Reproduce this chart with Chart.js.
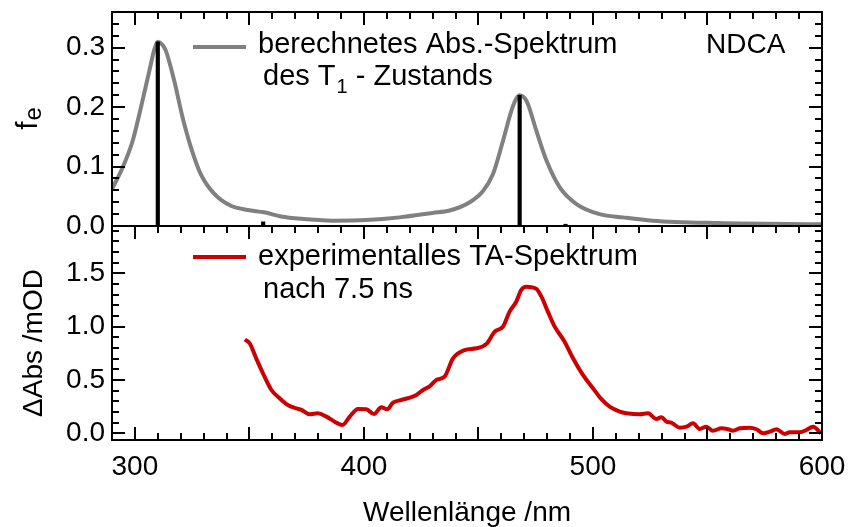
<!DOCTYPE html>
<html>
<head>
<meta charset="utf-8">
<script src="https://cdn.jsdelivr.net/npm/chart.js@4.4.1/dist/chart.umd.min.js"></script>
<style>
html,body{margin:0;padding:0;background:#fff;}
#wrap{width:848px;height:527px;position:relative;}
</style>
</head>
<body>
<div id="wrap"><canvas id="c" width="848" height="527"></canvas></div>
<script>
// ---- data ----
const calcWavelength = [290, 294.6, 299, 302.6, 306.3, 308.5, 310, 312, 313.5, 317.2, 320.8, 324.5, 328.8, 334.7, 341.9, 349.2, 356.5, 363.8, 372.5, 386.5, 401, 415.6, 430, 437.4, 446.2, 452, 456.3, 460.7, 464.4, 466.5, 468, 470, 471.5, 475.3, 479.7, 485.5, 492.8, 502.9, 513.1, 526, 555, 600];
const calcStrength   = [0.062, 0.098, 0.143, 0.199, 0.261, 0.297, 0.310, 0.305, 0.295, 0.244, 0.183, 0.132, 0.087, 0.054, 0.034, 0.027, 0.023, 0.016, 0.012, 0.009, 0.010, 0.0145, 0.022, 0.026, 0.040, 0.059, 0.087, 0.143, 0.194, 0.214, 0.220, 0.216, 0.206, 0.160, 0.110, 0.065, 0.037, 0.020, 0.0145, 0.009, 0.005, 0.003];

const stickWavelength = [310, 356, 468, 488];
const stickStrength   = [0.31, 0.007, 0.22, 0.003];

const taWavelength = [348, 350.1, 353, 355.9, 359.6, 363.2, 366.8, 370.5, 372.7, 376.3, 379.9, 383.6, 387.2, 390.6, 393.8, 397.4, 401, 404.4, 407.6, 410.1, 412.7, 416.3, 420, 422.9, 425.8, 428.7, 431.6, 435.2, 438.9, 444, 449.1, 453.5, 457.1, 460.7, 463.6, 466.5, 468.7, 470.9, 475.3, 477.5, 480.3, 483.3, 487.6, 491.3, 495.6, 500, 503.7, 507.3, 511.7, 514.6, 520.4, 524, 527.7, 529.9, 532.1, 534.2, 537.9, 540.8, 543.7, 546.6, 549.5, 552.4, 556.1, 559, 561.1, 564.1, 568.4, 571.4, 574.3, 577.2, 580.1, 583.7, 585.9, 590.3, 593.2, 596.1, 599.5];
const taAbsorbance = [0.88, 0.844, 0.70, 0.563, 0.406, 0.328, 0.265, 0.234, 0.219, 0.178, 0.188, 0.156, 0.109, 0.078, 0.156, 0.228, 0.225, 0.181, 0.244, 0.225, 0.287, 0.312, 0.334, 0.359, 0.406, 0.44, 0.50, 0.531, 0.703, 0.781, 0.797, 0.838, 0.953, 1.0, 1.141, 1.234, 1.344, 1.375, 1.354, 1.281, 1.141, 1.0, 0.859, 0.703, 0.547, 0.422, 0.32, 0.25, 0.203, 0.188, 0.178, 0.188, 0.134, 0.15, 0.109, 0.10, 0.053, 0.062, 0.094, 0.04, 0.062, 0.024, 0.047, 0.038, 0.024, 0.047, 0.053, 0.038, 0.0, 0.015, 0.038, -0.006, 0.009, 0.009, 0.031, 0.062, 0.0];

const xTickLabels = [300, 400, 500, 600];
const topTickLabels = [0.0, 0.1, 0.2, 0.3];
const bottomTickLabels = [0.0, 0.5, 1.0, 1.5];

// ---- chart ----
const FONT = "'Liberation Sans', Arial, Helvetica, sans-serif";
Chart.defaults.font.family = FONT;
Chart.defaults.color = '#000';

function pairs(xs, ys) { return xs.map((x, i) => ({x: x, y: ys[i]})); }

const frameAndText = {
  id: 'frameAndText',
  afterDraw(chart) {
    const {ctx, chartArea: ca, scales} = chart;
    const sx = scales.x, yT = scales.yTop, yB = scales.yBot;
    ctx.save();
    ctx.strokeStyle = '#000';
    ctx.lineWidth = 2;
    ctx.strokeRect(ca.left, ca.top, ca.right - ca.left, ca.bottom - ca.top);
    ctx.beginPath();
    ctx.moveTo(ca.left, yT.bottom); ctx.lineTo(ca.right, yT.bottom);
    ctx.stroke();

    // inward ticks
    ctx.beginPath();
    for (let v = 290; v <= 600; v += 10) {
      const px = Math.round(sx.getPixelForValue(v));
      const len = (v % 50 === 0) ? 13 : 7;
      ctx.moveTo(px, yT.top); ctx.lineTo(px, yT.top + len);
      ctx.moveTo(px, yB.top); ctx.lineTo(px, yB.top + len);
      ctx.moveTo(px, yB.bottom); ctx.lineTo(px, yB.bottom - len);
    }
    for (let i = 0; i <= 17; i++) {
      const py = Math.round(yT.getPixelForValue(i * 0.02));
      const len = (i % 5 === 0) ? 13 : 7;
      ctx.moveTo(ca.left, py); ctx.lineTo(ca.left + len, py);
      ctx.moveTo(ca.right, py); ctx.lineTo(ca.right - len, py);
    }
    for (let i = 0; i <= 19; i++) {
      const py = Math.round(yB.getPixelForValue(i * 0.1));
      const len = (i % 5 === 0) ? 13 : 7;
      ctx.moveTo(ca.left, py); ctx.lineTo(ca.left + len, py);
      ctx.moveTo(ca.right, py); ctx.lineTo(ca.right - len, py);
    }
    ctx.stroke();

    // legends
    const L = ca.left;
    ctx.lineCap = 'butt';
    ctx.lineWidth = 4;
    ctx.strokeStyle = '#808080';
    ctx.beginPath(); ctx.moveTo(L + 81, 47); ctx.lineTo(L + 134, 47); ctx.stroke();
    ctx.lineWidth = 4;
    ctx.strokeStyle = '#cc0000';
    ctx.beginPath(); ctx.moveTo(L + 81, 257); ctx.lineTo(L + 134, 257); ctx.stroke();

    ctx.fillStyle = '#000';
    ctx.textBaseline = 'alphabetic';
    ctx.textAlign = 'left';
    ctx.font = '29px ' + FONT;
    ctx.fillText('berechnetes Abs.-Spektrum', L + 146, 53);
    let tx = L + 151;
    ctx.fillText('des T', tx, 85);
    tx += ctx.measureText('des T').width;
    ctx.font = '20px ' + FONT;
    ctx.fillText('1', tx + 1, 93);
    tx += ctx.measureText('1').width + 1;
    ctx.font = '29px ' + FONT;
    ctx.fillText(' - Zustands', tx, 85);
    ctx.font = '28px ' + FONT;
    ctx.fillText('NDCA', 706, 53);
    ctx.font = '29px ' + FONT;
    ctx.fillText('experimentalles TA-Spektrum', L + 146, 265);
    ctx.fillText('nach 7.5 ns', L + 151, 298);

    // y titles
    ctx.save();
    ctx.translate(37, (yT.top + yT.bottom) / 2);
    ctx.rotate(-Math.PI / 2);
    ctx.font = '30px ' + FONT;
    const fw = ctx.measureText('f').width;
    ctx.font = '24px ' + FONT;
    const ew = ctx.measureText('e').width;
    const start = -(fw + ew) / 2;
    ctx.font = '30px ' + FONT;
    ctx.fillText('f', start, 0);
    ctx.font = '24px ' + FONT;
    ctx.fillText('e', start + fw + 1, 4);
    ctx.restore();

    ctx.save();
    ctx.translate(42, 343);
    ctx.rotate(-Math.PI / 2);
    ctx.textAlign = 'center';
    ctx.font = '28px ' + FONT;
    ctx.fillText('\u0394Abs /mOD', 0, 0);
    ctx.restore();

    ctx.restore();
  }
};

new Chart(document.getElementById('c'), {
  type: 'line',
  data: {
    datasets: [
      {
        type: 'bar',
        label: 'Oszillatorstärken',
        data: pairs(stickWavelength, stickStrength),
        xAxisID: 'x', yAxisID: 'yTop',
        backgroundColor: '#000',
        borderWidth: 0,
        barThickness: 3.5,
        order: 0
      },
      {
        label: 'berechnetes Abs.-Spektrum des T1 - Zustands',
        data: pairs(calcWavelength, calcStrength),
        xAxisID: 'x', yAxisID: 'yTop',
        borderColor: '#808080',
        borderWidth: 4,
        pointRadius: 0,
        cubicInterpolationMode: 'monotone',
        fill: false,
        order: 1
      },
      {
        label: 'experimentalles TA-Spektrum nach 7.5 ns',
        data: pairs(taWavelength, taAbsorbance),
        xAxisID: 'x', yAxisID: 'yBot',
        borderColor: '#cc0000',
        borderWidth: 4,
        pointRadius: 0,
        cubicInterpolationMode: 'monotone',
        fill: false,
        order: 1
      }
    ]
  },
  options: {
    responsive: false,
    animation: false,
    events: [],
    layout: {padding: {left: 0, top: 12, right: 26, bottom: 0}},
    plugins: {legend: {display: false}, tooltip: {enabled: false}, title: {display: false}},
    scales: {
      x: {
        type: 'linear', position: 'bottom', min: 290, max: 600, offset: false,
        grid: {display: false, drawTicks: false},
        border: {display: false},
        afterBuildTicks: s => { s.ticks = xTickLabels.map(v => ({value: v})); },
        ticks: {font: {size: 28, lineHeight: 1}, padding: 13, color: '#000', callback: v => String(v), maxRotation: 0, autoSkip: false},
        title: {display: true, text: 'Wellenlänge /nm', font: {size: 28, lineHeight: 1}, padding: 0, color: '#000'},
        afterFit: s => { s.height = 87; s.paddingLeft = 0; s.paddingRight = 0; }
      },
      yBot: {
        type: 'linear', position: 'left', stack: 'panels', stackWeight: 1,
        min: -0.063, max: 1.944,
        grid: {display: false, drawTicks: false},
        border: {display: false},
        afterBuildTicks: s => { s.ticks = bottomTickLabels.map(v => ({value: v})); },
        ticks: {font: {size: 28}, padding: 7, color: '#000', callback: v => Number(v).toFixed(1)},
        afterFit: s => { s.width = 112; s.paddingTop = 0; s.paddingBottom = 0; }
      },
      yTop: {
        type: 'linear', position: 'left', stack: 'panels', stackWeight: 1,
        min: 0, max: 0.36,
        grid: {display: false, drawTicks: false},
        border: {display: false},
        afterBuildTicks: s => { s.ticks = topTickLabels.map(v => ({value: v})); },
        ticks: {font: {size: 28}, padding: 7, color: '#000', callback: v => Number(v).toFixed(1)},
        afterFit: s => { s.width = 112; s.paddingTop = 0; s.paddingBottom = 0; }
      }
    }
  },
  plugins: [frameAndText]
});
</script>
</body>
</html>
